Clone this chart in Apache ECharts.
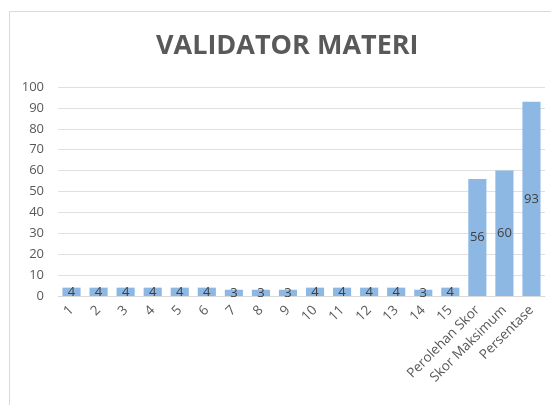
<!DOCTYPE html>
<html><head><meta charset="utf-8">
<script src="https://cdn.jsdelivr.net/npm/echarts@6/dist/echarts.min.js"></script>
<style>html,body{margin:0;padding:0;background:#fff}#c{width:551px;height:405px}</style>
</head><body><div id="c"></div>
<script>
const categories = ['1','2','3','4','5','6','7','8','9','10','11','12','13','14','15','Perolehan Skor','Skor Maksimum','Persentase'];
const values = [4,4,4,4,4,4,3,3,3,4,4,4,4,3,4,56,60,93];
const yTicks = {min:0, max:100, interval:10};
const titleText = 'VALIDATOR MATERI';

const chart = echarts.init(document.getElementById('c'), null, {renderer:'canvas'});
chart.setOption({
  animation:false,
  backgroundColor:'#fff',
  graphic:[{type:'rect', shape:{x:9.5,y:11.5,width:600,height:500}, style:{fill:'none', stroke:'#d9d9d9', lineWidth:1}, silent:true}],
  title:{text:titleText, left:151, top:28, textStyle:{fontFamily:'Open Sans', fontWeight:'bold', fontSize:27, color:'#595959'}},
  grid:{left:58, right:6, top:87, bottom:109},
  xAxis:{type:'category', data:categories,
    axisLine:{lineStyle:{color:'#d9d9d9'}}, axisTick:{show:false},
    axisLabel:{rotate:45, color:'#595959', fontFamily:'Open Sans', fontSize:13.5, interval:0, margin:12}},
  yAxis:{type:'value', min:yTicks.min, max:yTicks.max, interval:yTicks.interval,
    axisLine:{show:false}, axisTick:{show:false},
    splitLine:{lineStyle:{color:'#e0e0e0'}},
    axisLabel:{color:'#595959', fontFamily:'Open Sans', fontSize:13, margin:14}},
  series:[{type:'bar', data:values, barCategoryGap:'33%',
    itemStyle:{color:'#8cb8e3'},
    label:{show:true, position:'inside', color:'#404040', fontFamily:'Open Sans', fontSize:13}}]
});
</script></body></html>
